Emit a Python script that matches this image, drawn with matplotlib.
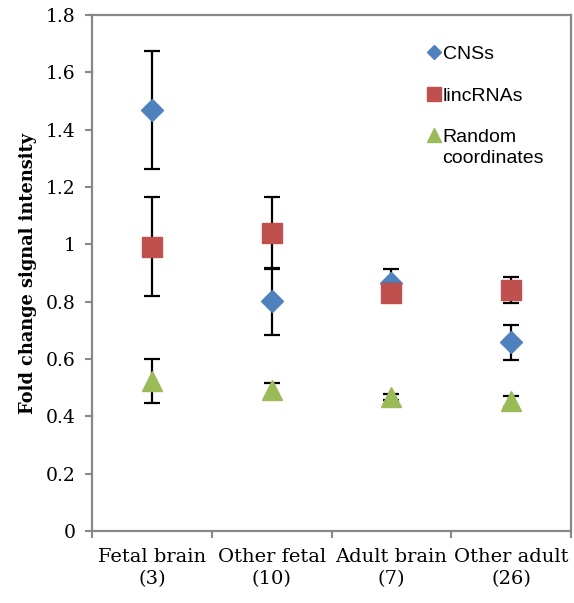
import numpy as np
import matplotlib.pyplot as plt

# Tissue groups (number of samples)
groups = ['Fetal brain\n(3)', 'Other fetal\n(10)', 'Adult brain\n(7)', 'Other adult\n(26)']

cns_mean = [1.468, 0.802, 0.865, 0.658]
cns_err = [0.206, 0.117, 0.05, 0.06]

linc_mean = [0.992, 1.040, 0.830, 0.840]
linc_err = [0.172, 0.126, 0.03, 0.045]

rand_mean = [0.523, 0.492, 0.468, 0.453]
rand_err = [0.078, 0.025, 0.01, 0.019]

yticks = [0, 0.2, 0.4, 0.6, 0.8, 1.0, 1.2, 1.4, 1.6, 1.8]
ytick_labels = ['0', '0.2', '0.4', '0.6', '0.8', '1', '1.2', '1.4', '1.6', '1.8']

fig = plt.figure(figsize=(5.74, 6.03), dpi=100)
ax = fig.add_axes([92/574, 1 - 531/603, (571 - 92)/574, (531 - 15)/603])

x = np.arange(len(groups))
ebar = dict(ecolor='black', elinewidth=1.6, capsize=6, capthick=1.6, linestyle='none')

ax.errorbar(x, linc_mean, yerr=linc_err, fmt='s', color='#c0504d', markersize=14,
            label='lincRNAs', zorder=3, **ebar)
ax.errorbar(x, cns_mean, yerr=cns_err, fmt='D', color='#4f81bd', markersize=11,
            label='CNSs', zorder=2, **ebar)
ax.errorbar(x, rand_mean, yerr=rand_err, fmt='^', color='#9bbb59', markersize=15,
            label='Random\ncoordinates', zorder=2, **ebar)

ax.set_xlim(-0.5, 3.5)
ax.set_ylim(0, 1.8)
ax.set_yticks(yticks)
ax.set_yticklabels(ytick_labels)
ax.set_xticks(x)
ax.set_xticklabels(groups, fontsize=14, family='DejaVu Serif', linespacing=1.35)
ax.set_xticks(np.arange(-0.5, 4, 1), minor=True)
ax.tick_params(axis='x', which='major', length=0, pad=12)
ax.tick_params(axis='x', which='minor', length=5, width=1.5, color='#888888', direction='out')
ax.tick_params(axis='y', length=5, width=1.5, color='#888888', direction='out', pad=7)
for lab in ax.get_yticklabels():
    lab.set_family('DejaVu Serif')
    lab.set_fontsize(13.5)

for sp in ax.spines.values():
    sp.set_color('#888888')
    sp.set_linewidth(1.6)

ax.set_ylabel('Fold change signal intensity', family='DejaVu Serif', fontweight='bold',
              fontsize=12.8, labelpad=6)

# legend without error bars
handles = [
    plt.Line2D([], [], marker='D', color='#4f81bd', linestyle='none', markersize=7.5),
    plt.Line2D([], [], marker='s', color='#c0504d', linestyle='none', markersize=9.5),
    plt.Line2D([], [], marker='^', color='#9bbb59', linestyle='none', markersize=10),
]
leg = ax.legend(handles, ['CNSs', 'lincRNAs', 'Random\ncoordinates'], loc='upper left',
                bbox_to_anchor=(0.665, 0.975), frameon=False, handlelength=0.6,
                handletextpad=0.15, labelspacing=1.25,
                prop={'family': 'Liberation Sans', 'size': 14})
for t in leg.get_texts():
    t.set_linespacing(1.3)
# put the triangle beside the first line of its two-line label
tri = leg.legend_handles[2]
tri.set_ydata(np.asarray(tri.get_ydata()) + 9)

fig.savefig('out.png', dpi=100)
